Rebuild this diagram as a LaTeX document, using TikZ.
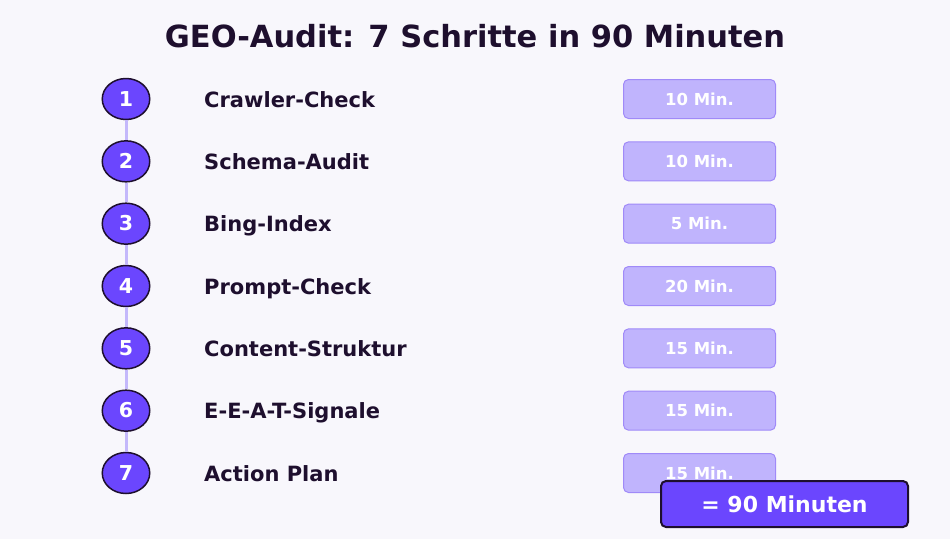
\documentclass[tikz,border=0pt]{standalone}
\usepackage{fontspec}
\setmainfont{DejaVu Sans}
\usetikzlibrary{shapes.geometric}
\definecolor{bgpaper}{HTML}{F8F7FC}
\definecolor{inkdark}{HTML}{1E0F2E}
\definecolor{violetmain}{HTML}{6B46FE}
\definecolor{violetlight}{HTML}{C0B4FD}
\definecolor{violetedge}{HTML}{A08AF8}
\definecolor{violetline}{HTML}{C4B8FB}
\tikzset{
	stepnum/.style={ellipse, draw=inkdark, line width=1.5pt, fill=violetmain, minimum width=47.5pt, minimum height=41pt, inner sep=0pt, text height=14.5pt, text depth=0pt, text=white, font=\fontsize{20.5}{24}\selectfont\bfseries},
	steplabel/.style={anchor=west, inner sep=0pt, text height=15.3pt, text depth=0pt, text=inkdark, font=\fontsize{21}{25}\selectfont\bfseries},
	timebadge/.style={rectangle, rounded corners=5pt, draw=violetedge, line width=1pt, fill=violetlight, minimum width=152pt, minimum height=39pt, inner sep=0pt, text height=12pt, text depth=0pt, text=white, font=\fontsize{16.5}{20}\selectfont\bfseries},
	totalbox/.style={rectangle, rounded corners=5pt, draw=inkdark, line width=2pt, fill=violetmain, minimum width=247pt, minimum height=46pt, inner sep=0pt, text height=16pt, text depth=0pt, text=white, font=\fontsize{22}{26}\selectfont\bfseries},
	stepline/.style={draw=violetline, line width=3pt}
}

\begin{document}
\begin{tikzpicture}[x=1pt, y=-1pt]
			%%%%% START %%%%%
			
			\fill[bgpaper] (0, 0) rectangle (950, 539);
			\useasboundingbox (0, 0) rectangle (950, 539);
			
			\node[text=inkdark, font=\fontsize{30.5}{36}\selectfont\bfseries, text height=22pt, text depth=0pt, inner sep=0pt] (title) at (475, 36) {GEO-Audit: 7 Schritte in 90 Minuten};
			
			\node[stepnum] (n1) at (126, 99) {1};
			\node[steplabel] (l1) at (204, 99.5) {Crawler-Check};
			\node[timebadge] (t1) at (699.5, 99) {10 Min.};
			
			\node[stepnum] (n2) at (126, 161.33) {2};
			\node[steplabel] (l2) at (204, 161.83) {Schema-Audit};
			\node[timebadge] (t2) at (699.5, 161.33) {10 Min.};
			
			\node[stepnum] (n3) at (126, 223.67) {3};
			\node[steplabel] (l3) at (204, 224.17) {Bing-Index};
			\node[timebadge] (t3) at (699.5, 223.67) {5 Min.};
			
			\node[stepnum] (n4) at (126, 286) {4};
			\node[steplabel] (l4) at (204, 286.5) {Prompt-Check};
			\node[timebadge] (t4) at (699.5, 286) {20 Min.};
			
			\node[stepnum] (n5) at (126, 348.33) {5};
			\node[steplabel] (l5) at (204, 348.83) {Content-Struktur};
			\node[timebadge] (t5) at (699.5, 348.33) {15 Min.};
			
			\node[stepnum] (n6) at (126, 410.67) {6};
			\node[steplabel] (l6) at (204, 411.17) {E-E-A-T-Signale};
			\node[timebadge] (t6) at (699.5, 410.67) {15 Min.};
			
			\node[stepnum] (n7) at (126, 473) {7};
			\node[steplabel] (l7) at (204, 473.5) {Action Plan};
			\node[timebadge] (t7) at (699.5, 473) {15 Min.};
			
			\draw[stepline] (n1.south) -- (n2.north);
			\draw[stepline] (n2.south) -- (n3.north);
			\draw[stepline] (n3.south) -- (n4.north);
			\draw[stepline] (n4.south) -- (n5.north);
			\draw[stepline] (n5.south) -- (n6.north);
			\draw[stepline] (n6.south) -- (n7.north);
			
			\node[totalbox] (total) at (784.5, 504) {= 90 Minuten};
			
			%%%%% END %%%%%
		\end{tikzpicture}
\end{document}
